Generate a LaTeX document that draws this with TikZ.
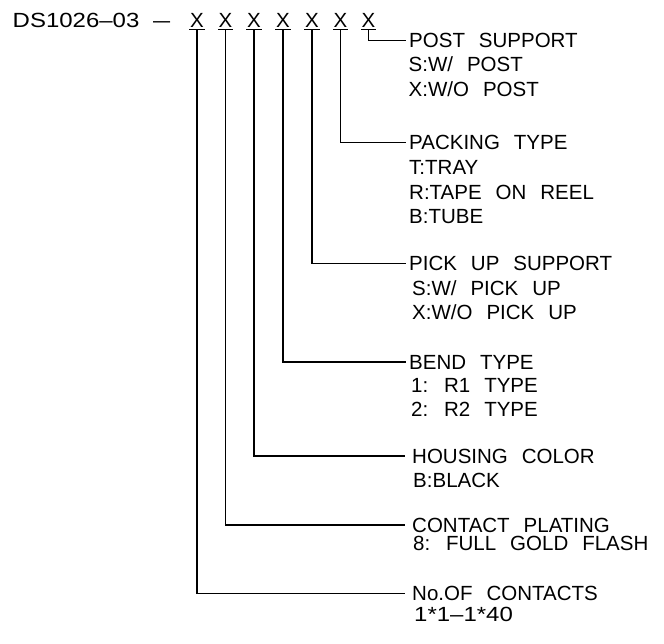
\documentclass[tikz,border=0pt]{standalone}
\usepackage{fontspec}
\setmainfont{Liberation Sans}[WordSpace=2.45]
\begin{document}
\begin{tikzpicture}[x=1pt,y=-1pt,
  fnt/.style={font=\fontsize{20.5}{24}\selectfont},
  txt/.style={fnt, inner sep=0pt, anchor=base west},
  head/.style={fnt, inner sep=0pt, inner xsep=3pt, anchor=west, text height=14.7pt, text depth=0pt},
  headw/.style={head, inner xsep=7pt},
  xch/.style={fnt, inner sep=0pt, anchor=base, minimum width=15pt, text height=14.7pt, text depth=2.5pt},
  conn/.style={line width=1.5pt}]
\useasboundingbox (0,0) rectangle (664,643);
% header
\node[txt] (hdr) at (12.5,27) {\scalebox{1.17}[1]{DS1026--03}};
\node[txt] (dash) at (153,27) {\scalebox{1.5}[1]{--}};
\node[xch] (x1) at (197,27) {X};
\node[xch] (x2) at (225.5,27) {X};
\node[xch] (x3) at (254,27) {X};
\node[xch] (x4) at (283,27) {X};
\node[xch] (x5) at (312,27) {X};
\node[xch] (x6) at (340.5,27) {X};
\node[xch] (x7) at (368.5,27) {X};
\foreach \i in {1,...,7} {\draw[conn] (x\i.south west) -- (x\i.south east);}
% labels
\node[head] (post) at (406,40.5) {POST SUPPORT};
\node[txt] (post1) at (408.5,71.5) {S:W/ POST};
\node[txt] (post2) at (408.5,96) {X:W/O POST};
\node[head] (pack) at (406,142.5) {PACKING TYPE};
\node[txt] (pack1) at (409,174.5) {T:TRAY};
\node[txt] (pack2) at (409,199) {R:TAPE ON REEL};
\node[txt] (pack3) at (409,223.5) {B:TUBE};
\node[head] (pick) at (406,263.3) {PICK UP SUPPORT};
\node[txt] (pick1) at (412,295) {S:W/ PICK UP};
\node[txt] (pick2) at (412,319) {X:W/O PICK UP};
\node[head] (bend) at (406,362) {BEND TYPE};
\node[txt] (bend1) at (411,392.5) {1: R1 TYPE};
\node[txt] (bend2) at (411,416.5) {2: R2 TYPE};
\node[headw] (hous) at (405,456) {HOUSING COLOR};
\node[txt] (hous1) at (413,487.5) {B:BLACK};
\node[headw] (cont) at (405,525) {CONTACT PLATING};
\node[txt] (cont1) at (413,550.5) {8: FULL GOLD FLASH};
\node[headw] (noc) at (405,593.3) {No.OF CONTACTS};
\node[txt] (noc1) at (414,621) {\scalebox{1.17}[1]{1*1--1*40}};
% connectors
\draw[conn] (x7.south) |- (post.west);
\draw[conn] (x6.south) |- (pack.west);
\draw[conn] (x5.south) |- (pick.west);
\draw[conn] (x4.south) |- (bend.west);
\draw[conn] (x3.south) |- (hous.west);
\draw[conn] (x2.south) |- (cont.west);
\draw[conn] (x1.south) |- (noc.west);
\end{tikzpicture}
\end{document}
